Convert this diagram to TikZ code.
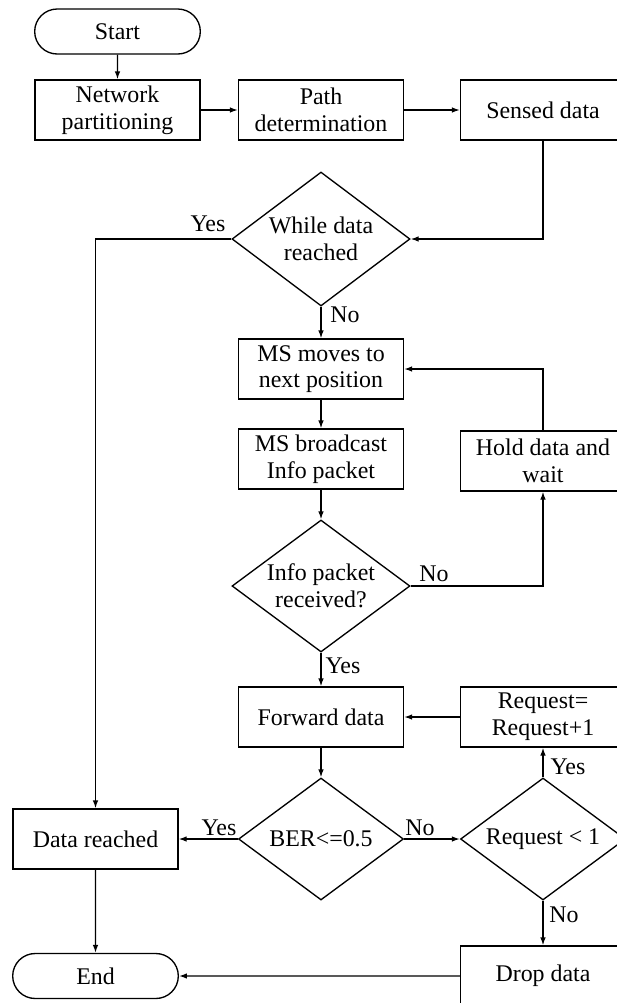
\documentclass[tikz,border=0pt]{standalone}
\usepackage{fontspec}
\setmainfont{Liberation Serif}
\usetikzlibrary{%
  arrows.meta,%
  shapes.geometric,% diamond
  shapes.misc% rounded rectangle
}
\tikzset{
  box/.style={draw, rectangle, line width=0.95pt, minimum width=4.125cm,
    minimum height=1.5cm, inner sep=2pt, align=center},
  decision/.style={draw, diamond, line width=0.95pt, inner sep=0pt, align=center},
  terminal/.style={draw, rounded rectangle, line width=0.95pt,
    minimum width=4.375cm, minimum height=1.125cm},
  lbl/.style={inner sep=0pt},
  flow/.style={draw, line width=0.95pt, -{Latex[length=2mm,width=1.4mm]}},
}

\begin{document}
\begin{tikzpicture}[font=\fontsize{17}{19}\selectfont]
      \useasboundingbox (0,0) rectangle (15.4,-25.075);

      \node[terminal] (start) at (2.9375,-0.7875) {Start};
      \node[box] (net) at (2.9375,-2.75) {Network\\partitioning};
      \node[box] (path) at (8.025,-2.75) {Path\\determination};
      \node[box] (sensed) at (13.575,-2.75) {Sensed data};
      \node[decision, minimum width=4.45cm, minimum height=3.35cm, aspect=1.33]
        (while) at (8.025,-5.975) {While data\\reached};
      \node[box] (moves) at (8.025,-9.225) {MS moves to\\next position};
      \node[box] (bcast) at (8.025,-11.475) {MS broadcast\\Info packet};
      \node[box] (hold) at (13.575,-11.525) {Hold data and\\wait};
      \node[decision, minimum width=4.45cm, minimum height=3.3cm, aspect=1.33]
        (info) at (8.025,-14.65) {Info packet\\received?};
      \node[box] (fwd) at (8.025,-17.925) {Forward data};
      \node[box] (req) at (13.575,-17.925) {Request=\\Request+1};
      \node[decision, minimum width=4.125cm, minimum height=3.05cm, aspect=1.35]
        (ber) at (8.025,-20.975) {BER<=0.5};
      \node[decision, minimum width=4.125cm, minimum height=3.05cm, aspect=1.35]
        (less) at (13.575,-20.975) {Request < 1};
      \node[box] (reached) at (2.3875,-20.975) {Data reached};
      \node[box] (drop) at (13.575,-24.4) {Drop data};
      \node[terminal] (end) at (2.3875,-24.4) {End};

      \node[lbl] (yes1) at (5.2,-5.6) {Yes};
      \node[lbl] (no1) at (8.625,-7.875) {No};
      \node[lbl] (no2) at (10.85,-14.35) {No};
      \node[lbl] (yes2) at (8.575,-16.65) {Yes};
      \node[lbl] (yes3) at (14.2,-19.175) {Yes};
      \node[lbl] (yes4) at (5.475,-20.7) {Yes};
      \node[lbl] (no3) at (10.5,-20.7) {No};
      \node[lbl] (no4) at (14.1,-22.875) {No};

      \path [flow] (start) -- (net);
      \path [flow] (net) -- (path);
      \path [flow] (path) -- (sensed);
      \path [flow] (sensed) |- (while.east);
      \path [flow] (while.west) -| (reached.north);
      \path [flow] (while) -- (moves);
      \path [flow] (moves) -- (bcast);
      \path [flow] (bcast) -- (info);
      \path [flow] (info.east) -| (hold.south);
      \path [flow] (hold.north) |- (moves.east);
      \path [flow] (info) -- (fwd);
      \path [flow] (req) -- (fwd);
      \path [flow] (fwd) -- (ber);
      \path [flow] (ber) -- (reached);
      \path [flow] (ber) -- (less);
      \path [flow] (less) -- (req);
      \path [flow] (less) -- (drop);
      \path [flow] (reached) -- (end);
      \path [flow] (drop) -- (end);
    \end{tikzpicture}
\end{document}
